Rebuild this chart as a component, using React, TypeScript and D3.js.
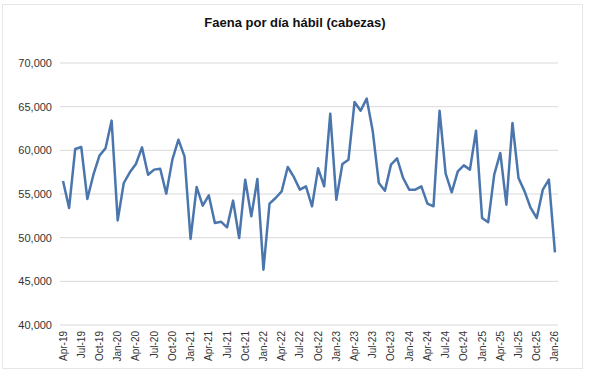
import React from "react";
import * as d3 from "d3";

const months = ["Jan","Feb","Mar","Apr","May","Jun","Jul","Aug","Sep","Oct","Nov","Dec"];
const startYear = 2019;
const startMonth = 3; // Apr

const values: number[] = [
  56500, 53400, 60150, 60380, 54430, 57210, 59390, 60230, 63400,
  51980, 56260, 57480, 58440, 60340, 57210, 57790, 57900, 55040, 58930, 61220, 59310,
  49850, 55800, 53660, 54850, 51680, 51830, 51180, 54240, 49960, 56640, 52440, 56720,
  46340, 53890, 54540, 55300, 58090, 56950, 55500, 55880, 53590, 57940, 55880, 64200,
  54350, 58440, 58930, 65530, 64540, 65920, 62180, 56260, 55380, 58360, 59080, 56830,
  55500, 55500, 55880, 53890, 53590, 64540, 57330, 55190, 57600, 58280, 57790, 62250,
  52250, 51760, 57210, 59700, 53780, 63130, 56830, 55300, 53400, 52250, 55500, 56640,
  48320,
];

const categories: string[] = values.map((_, i) => {
  const m = (startMonth + i) % 12;
  const y = startYear + Math.floor((startMonth + i) / 12);
  return `${months[m]}-${String(y % 100).padStart(2, "0")}`;
});

const yTicks = [40000, 45000, 50000, 55000, 60000, 65000, 70000];
const title = "Faena por día hábil (cabezas)";

export default function App() {
  const W = 589, H = 376;
  const left = 60, right = 558, top = 63, bottom = 325;
  const x = d3.scaleBand<string>().domain(categories).range([left, right]);
  const y = d3.scaleLinear().domain([40000, 70000]).range([bottom, top]);
  const cx = (c: string) => (x(c) as number) + x.bandwidth() / 2;
  const line = d3.line<number>().x((_, i) => cx(categories[i])).y((d) => y(d));
  const fmt = d3.format(",");
  const font = "'Liberation Sans', Arial, sans-serif";
  return (
    <svg width={W} height={H} style={{ position: "absolute", left: 0, top: 0, background: "#fff" }}>
      <rect x={2.5} y={4.5} width={580} height={364} fill="#fff" stroke="#e6e6e6" />
      <text x={295} y={27} textAnchor="middle" fontFamily={font} fontWeight="bold" fontSize={13} fill="#111">
        {title}
      </text>
      {yTicks.map((t) => (
        <g key={t}>
          <line x1={left} x2={right} y1={y(t)} y2={y(t)} stroke="#d9d9d9" strokeWidth={1} />
          <text x={52} y={y(t) + 4} textAnchor="end" fontFamily={font} fontSize={11} fill="#333">
            {fmt(t)}
          </text>
        </g>
      ))}
      <path d={line(values) || ""} fill="none" stroke="#4a76ad" strokeWidth={2.5} strokeLinejoin="round" />
      {categories.map((c, i) =>
        i % 3 === 0 ? (
          <text
            key={c}
            transform={`translate(${cx(c) + 3.5},${331}) rotate(-90)`}
            textAnchor="end"
            fontFamily={font}
            fontSize={10}
            fill="#333"
          >
            {c}
          </text>
        ) : null
      )}
    </svg>
  );
}
